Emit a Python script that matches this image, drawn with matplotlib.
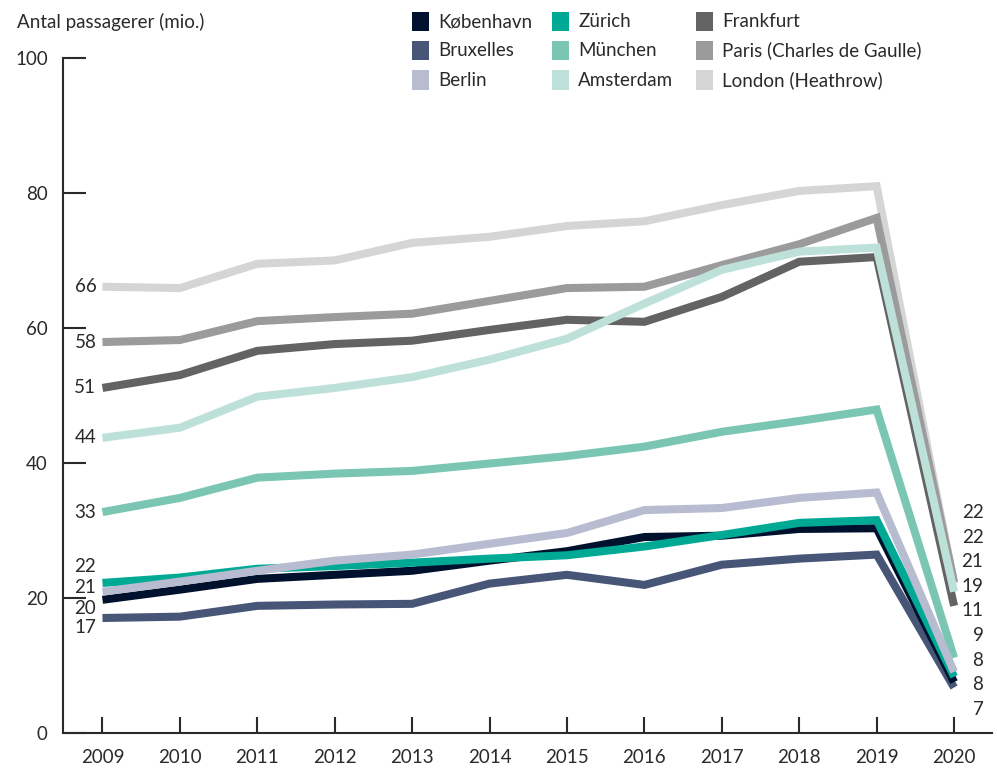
import matplotlib
matplotlib.use('Agg')
import matplotlib.pyplot as plt
from matplotlib.patches import Rectangle

plt.rcParams['font.family'] = ['Lato', 'DejaVu Sans']
plt.rcParams['text.color'] = '#2a2a2a'

years = list(range(2009, 2021))

# passagerer i mio. pr. lufthavn (aflæst)
london = [66.1, 65.9, 69.5, 70.0, 72.6, 73.5, 75.1, 75.8, 78.2, 80.3, 81.0, 22.1]
paris = [57.9, 58.2, 61.0, 61.6, 62.1, 64.0, 65.9, 66.1, 69.3, 72.4, 76.3, 22.3]
frankfurt = [51.1, 53.0, 56.6, 57.6, 58.1, 59.7, 61.2, 60.9, 64.6, 69.8, 70.5, 18.8]
amsterdam = [43.7, 45.2, 49.8, 51.1, 52.7, 55.3, 58.4, 63.6, 68.6, 71.3, 71.9, 20.9]
muenchen = [32.7, 34.8, 37.8, 38.4, 38.8, 39.9, 41.0, 42.4, 44.6, 46.2, 47.9, 11.1]
berlin = [20.9, 22.4, 24.0, 25.5, 26.4, 28.0, 29.6, 33.0, 33.3, 34.8, 35.6, 9.0]
zuerich = [22.2, 23.0, 24.3, 24.7, 25.2, 25.8, 26.3, 27.6, 29.3, 31.1, 31.5, 8.3]
koebenhavn = [19.7, 21.2, 22.8, 23.4, 24.0, 25.5, 26.9, 29.0, 29.2, 30.2, 30.3, 7.5]
bruxelles = [17.0, 17.2, 18.8, 19.0, 19.1, 22.1, 23.4, 21.9, 24.9, 25.8, 26.4, 6.7]

names = ['København', 'Bruxelles', 'Berlin', 'Zürich', 'München', 'Amsterdam',
         'Frankfurt', 'Paris (Charles de Gaulle)', 'London (Heathrow)']
series = [koebenhavn, bruxelles, berlin, zuerich, muenchen, amsterdam,
          frankfurt, paris, london]
colors = ['#00112e', '#475577', '#b7bcd1', '#00a994', '#7bc6b3', '#bde1d8',
          '#636363', '#9b9b9b', '#d5d5d5']

# tegnerækkefølge (bagerst først)
draw_order = [8, 7, 6, 5, 4, 1, 0, 3, 2]
# forskydning af venstre etiketter for at undgå overlap
left_offset = [-1.3, -1.4, 0.6, 2.5, 0, 0, 0, 0, 0]

fs = 13.5

fig = plt.figure(figsize=(9.97, 7.71), dpi=100)
ax = fig.add_axes([63 / 997, 38.3 / 771, 929 / 997, 674.7 / 771])

for i in draw_order:
    ax.plot(years, series[i], color=colors[i], linewidth=5.8,
            solid_joinstyle='miter', solid_capstyle='butt')

ax.set_xlim(2008.49, 2020.49)
ax.set_ylim(0, 100)
ax.set_xticks(years)
ax.set_yticks([0, 20, 40, 60, 80, 100])
ax.spines['top'].set_visible(False)
ax.spines['right'].set_visible(False)
for s in ['left', 'bottom']:
    ax.spines[s].set_linewidth(1.5)
    ax.spines[s].set_color('#2a2a2a')
ax.tick_params(axis='y', direction='in', length=16.5, width=1.5, pad=11,
               labelsize=fs, colors='#2a2a2a')
ax.tick_params(axis='x', direction='in', length=11.5, width=1.5, pad=12,
               labelsize=fs, colors='#2a2a2a')

# venstre etiketter (2009)
for i, s in enumerate(series):
    ax.text(2008.92, s[0] + left_offset[i], f'{round(s[0])}', ha='right',
            va='center', fontsize=fs)

# højre etiketter (2020), stablet
end_vals = sorted([s[-1] for s in series], reverse=True)
for k, v in enumerate(end_vals):
    ax.text(2020.38, 32.6 - k * 3.64, f'{round(v)}', ha='right', va='center',
            fontsize=fs)

fig.text(17 / 997, 1 - 22 / 771, 'Antal passagerer (mio.)', ha='left',
         va='center', fontsize=fs)

# forklaring
col_x = [412, 552, 696]
row_y = [21.5, 50.5, 80]
for i, name in enumerate(names):
    cx = col_x[i // 3]
    cy = row_y[i % 3]
    fig.add_artist(Rectangle(((cx) / 997, 1 - (cy + 9.5) / 771), 17 / 997,
                             19 / 771, transform=fig.transFigure,
                             facecolor=colors[i], edgecolor='none'))
    fig.text((cx + 26) / 997, 1 - cy / 771, name, ha='left', va='center',
             fontsize=fs)

fig.savefig('out.png', dpi=100)
